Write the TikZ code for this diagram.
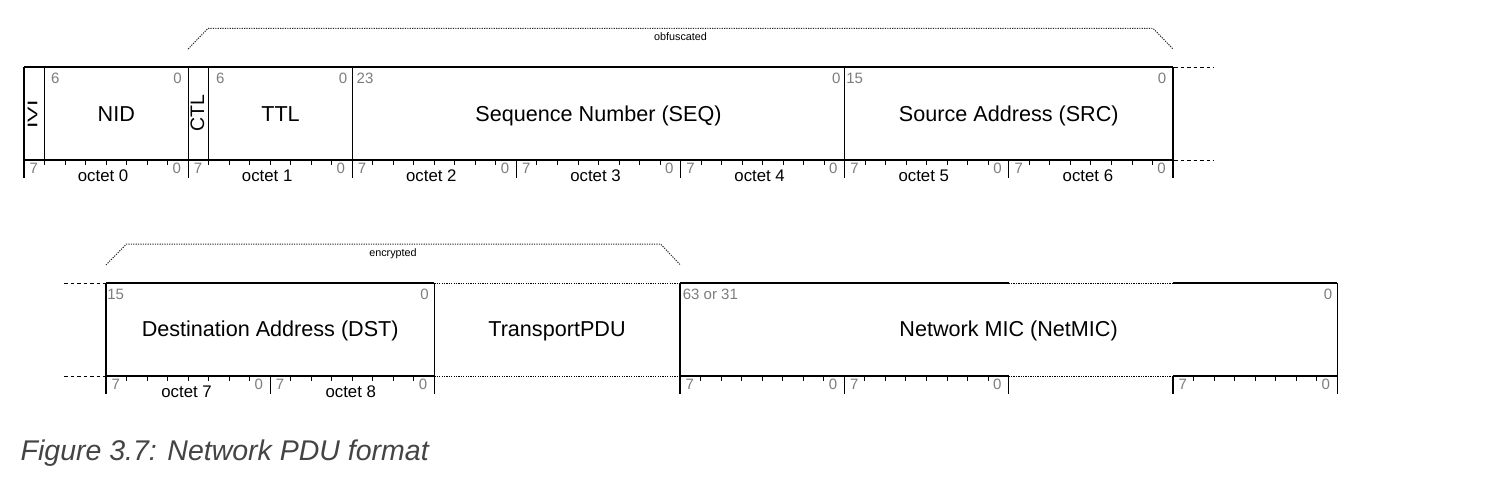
\documentclass[tikz,border=0pt]{standalone}
\usepackage{fontspec}
\setmainfont{Liberation Sans}
\definecolor{numgray}{RGB}{125,125,125}
\definecolor{capgray}{RGB}{68,68,68}
\definecolor{dotgray}{RGB}{40,40,40}
\begin{document}
\begin{tikzpicture}[x=1pt,y=-1pt,
  boxline/.style={line width=1.2pt,black},
  tickline/.style={line width=0.9pt,black},
  dashext/.style={line width=1pt,black,dash pattern=on 3.5pt off 3pt},
  dotline/.style={line width=1pt,black,dash pattern=on 1.3pt off 1.1pt},
  bracketline/.style={line width=1pt,dotgray,dash pattern=on 1.2pt off 1.2pt},
  fieldlabel/.style={anchor=base,inner sep=0pt,font=\fontsize{21.6}{24}\selectfont},
  numl/.style={anchor=base west,inner sep=0pt,text=numgray,font=\fontsize{15}{17}\selectfont},
  numr/.style={anchor=base east,inner sep=0pt,text=numgray,font=\fontsize{15}{17}\selectfont},
  octlabel/.style={anchor=base,inner sep=0pt,font=\fontsize{16.8}{18}\selectfont},
  smalllabel/.style={anchor=base,inner sep=0pt,font=\fontsize{10.8}{12}\selectfont},
  vlabel/.style={anchor=base,rotate=90,inner sep=0pt},
]
\useasboundingbox[fill=white] (0,0) rectangle (1492,482);

% ================= TOP ROW =================
% obfuscated bracket
\coordinate (ob1) at (188.1,49);
\coordinate (ob2) at (208,28.3);
\coordinate (ob3) at (1153,28.3);
\coordinate (ob4) at (1173,49);
\draw[bracketline] (ob1) -- (ob2) -- (ob3) -- (ob4);
\node[smalllabel] (obf) at (680.5,40.7) {obfuscated};

% box outline
\draw[boxline] (24,67) -- (1173,67);
\draw[boxline] (24,160) -- (1173,160);
\foreach \x in {24,188.14,352.28,844.7,1173}
  \draw[boxline] (\x,67) -- (\x,178);
\foreach \x in {44.5,208.6}
  \draw[boxline] (\x,67) -- (\x,160);
\foreach \x in {516.42,680.56,1008.84}
  \draw[boxline] (\x,160) -- (\x,178);
% dashed continuation right
\draw[dashext] (1174,67) -- (1214,67);
\draw[dashext] (1174,160) -- (1214,160);

% octets top row
\foreach \a/\b/\lab in {24/188.14/octet 0,188.14/352.28/octet 1,352.28/516.42/octet 2,516.42/680.56/octet 3,680.56/844.7/octet 4,844.7/1008.84/octet 5,1008.84/1173/octet 6}{
  \foreach \k in {1,...,7}
    \draw[tickline] ({\a+(\b-\a)*\k/8},160) -- ++(0,5);
  \node[numl] at ({\a+5.5},173.6) {7};
  \node[numr] at ({\b-7},173.6) {0};
  \node[octlabel] at ({(\a+\b)/2-3},181) {\lab};
}

% field labels top row
\node[vlabel,font=\fontsize{14}{16}\selectfont] (ivi) at (37.3,114.7) {\scalebox{1.65}[1]{IVI}};
\node[fieldlabel] (nid) at (116.3,121.2) {NID};
\node[vlabel,font=\fontsize{19.5}{22}\selectfont] (ctl) at (204,112.8) {CTL};
\node[fieldlabel] (ttl) at (280.5,121.2) {TTL};
\node[fieldlabel] (seq) at (598.5,121.2) {Sequence Number (SEQ)};
\node[fieldlabel] (src) at (1008.8,121.2) {Source Address (SRC)};

\node[numl] at (51,83.3) {6};
\node[numr] at (182,83.3) {0};
\node[numl] at (216,83.3) {6};
\node[numr] at (347.3,83.3) {0};
\node[numl] at (356.5,83.3) {23};
\node[numr] at (840.6,83.3) {0};
\node[numl] at (846.2,83.3) {15};
\node[numr] at (1166.3,83.3) {0};

% ================= BOTTOM ROW =================
% encrypted bracket
\coordinate (en1) at (106,265);
\coordinate (en2) at (126.5,244);
\coordinate (en3) at (660.5,244);
\coordinate (en4) at (680,264.5);
\draw[bracketline] (en1) -- (en2) -- (en3) -- (en4);
\node[smalllabel] (enc) at (393,256.5) {encrypted};

% dashed continuation left
\draw[dashext] (64,283) -- (105,283);
\draw[dashext] (64,376) -- (105,376);

% horizontal edges
\foreach \y in {283,376}{
  \draw[boxline] (106,\y) -- (434.3,\y);
  \draw[dotline] (434.3,\y) -- (680,\y);
  \draw[boxline] (680,\y) -- (1008.6,\y);
  \draw[dotline] (1008.6,\y) -- (1172.9,\y);
  \draw[boxline] (1172.9,\y) -- (1337.2,\y);
}
\foreach \x in {106,434.3,680,1337.2}
  \draw[boxline] (\x,283) -- (\x,394);
\foreach \x in {270.15,844.3,1008.6,1172.9}
  \draw[boxline] (\x,376) -- (\x,394);

% octets bottom row
\foreach \a/\b/\lab in {106/270.15/octet 7,270.15/434.3/octet 8,680/844.3/,844.3/1008.6/,1172.9/1337.2/}{
  \foreach \k in {1,...,7}
    \draw[tickline] ({\a+(\b-\a)*\k/8},376) -- ++(0,5);
  \node[numl] at ({\a+5.5},389.6) {7};
  \node[numr] at ({\b-7},389.6) {0};
  \node[octlabel] at ({(\a+\b)/2-1.5},397.5) {\lab};
}

% field labels bottom row
\node[fieldlabel] (dst) at (270.2,336.8) {Destination Address (DST)};
\node[fieldlabel] (tpdu) at (557,336.8) {TransportPDU};
\node[fieldlabel] (mic) at (1008.6,336.8) {Network MIC (NetMIC)};

\node[numl] at (107.2,299.3) {15};
\node[numr] at (428.9,299.3) {0};
\node[numl] at (682.7,299.3) {63 or 31};
\node[numr] at (1332.3,299.3) {0};

% caption
\node[anchor=base west,inner sep=0pt,text=capgray,font=\fontsize{28.5}{30}\selectfont\itshape] (cap) at (20.5,460) {Figure 3.7: Network PDU format};
\end{tikzpicture}
\end{document}
